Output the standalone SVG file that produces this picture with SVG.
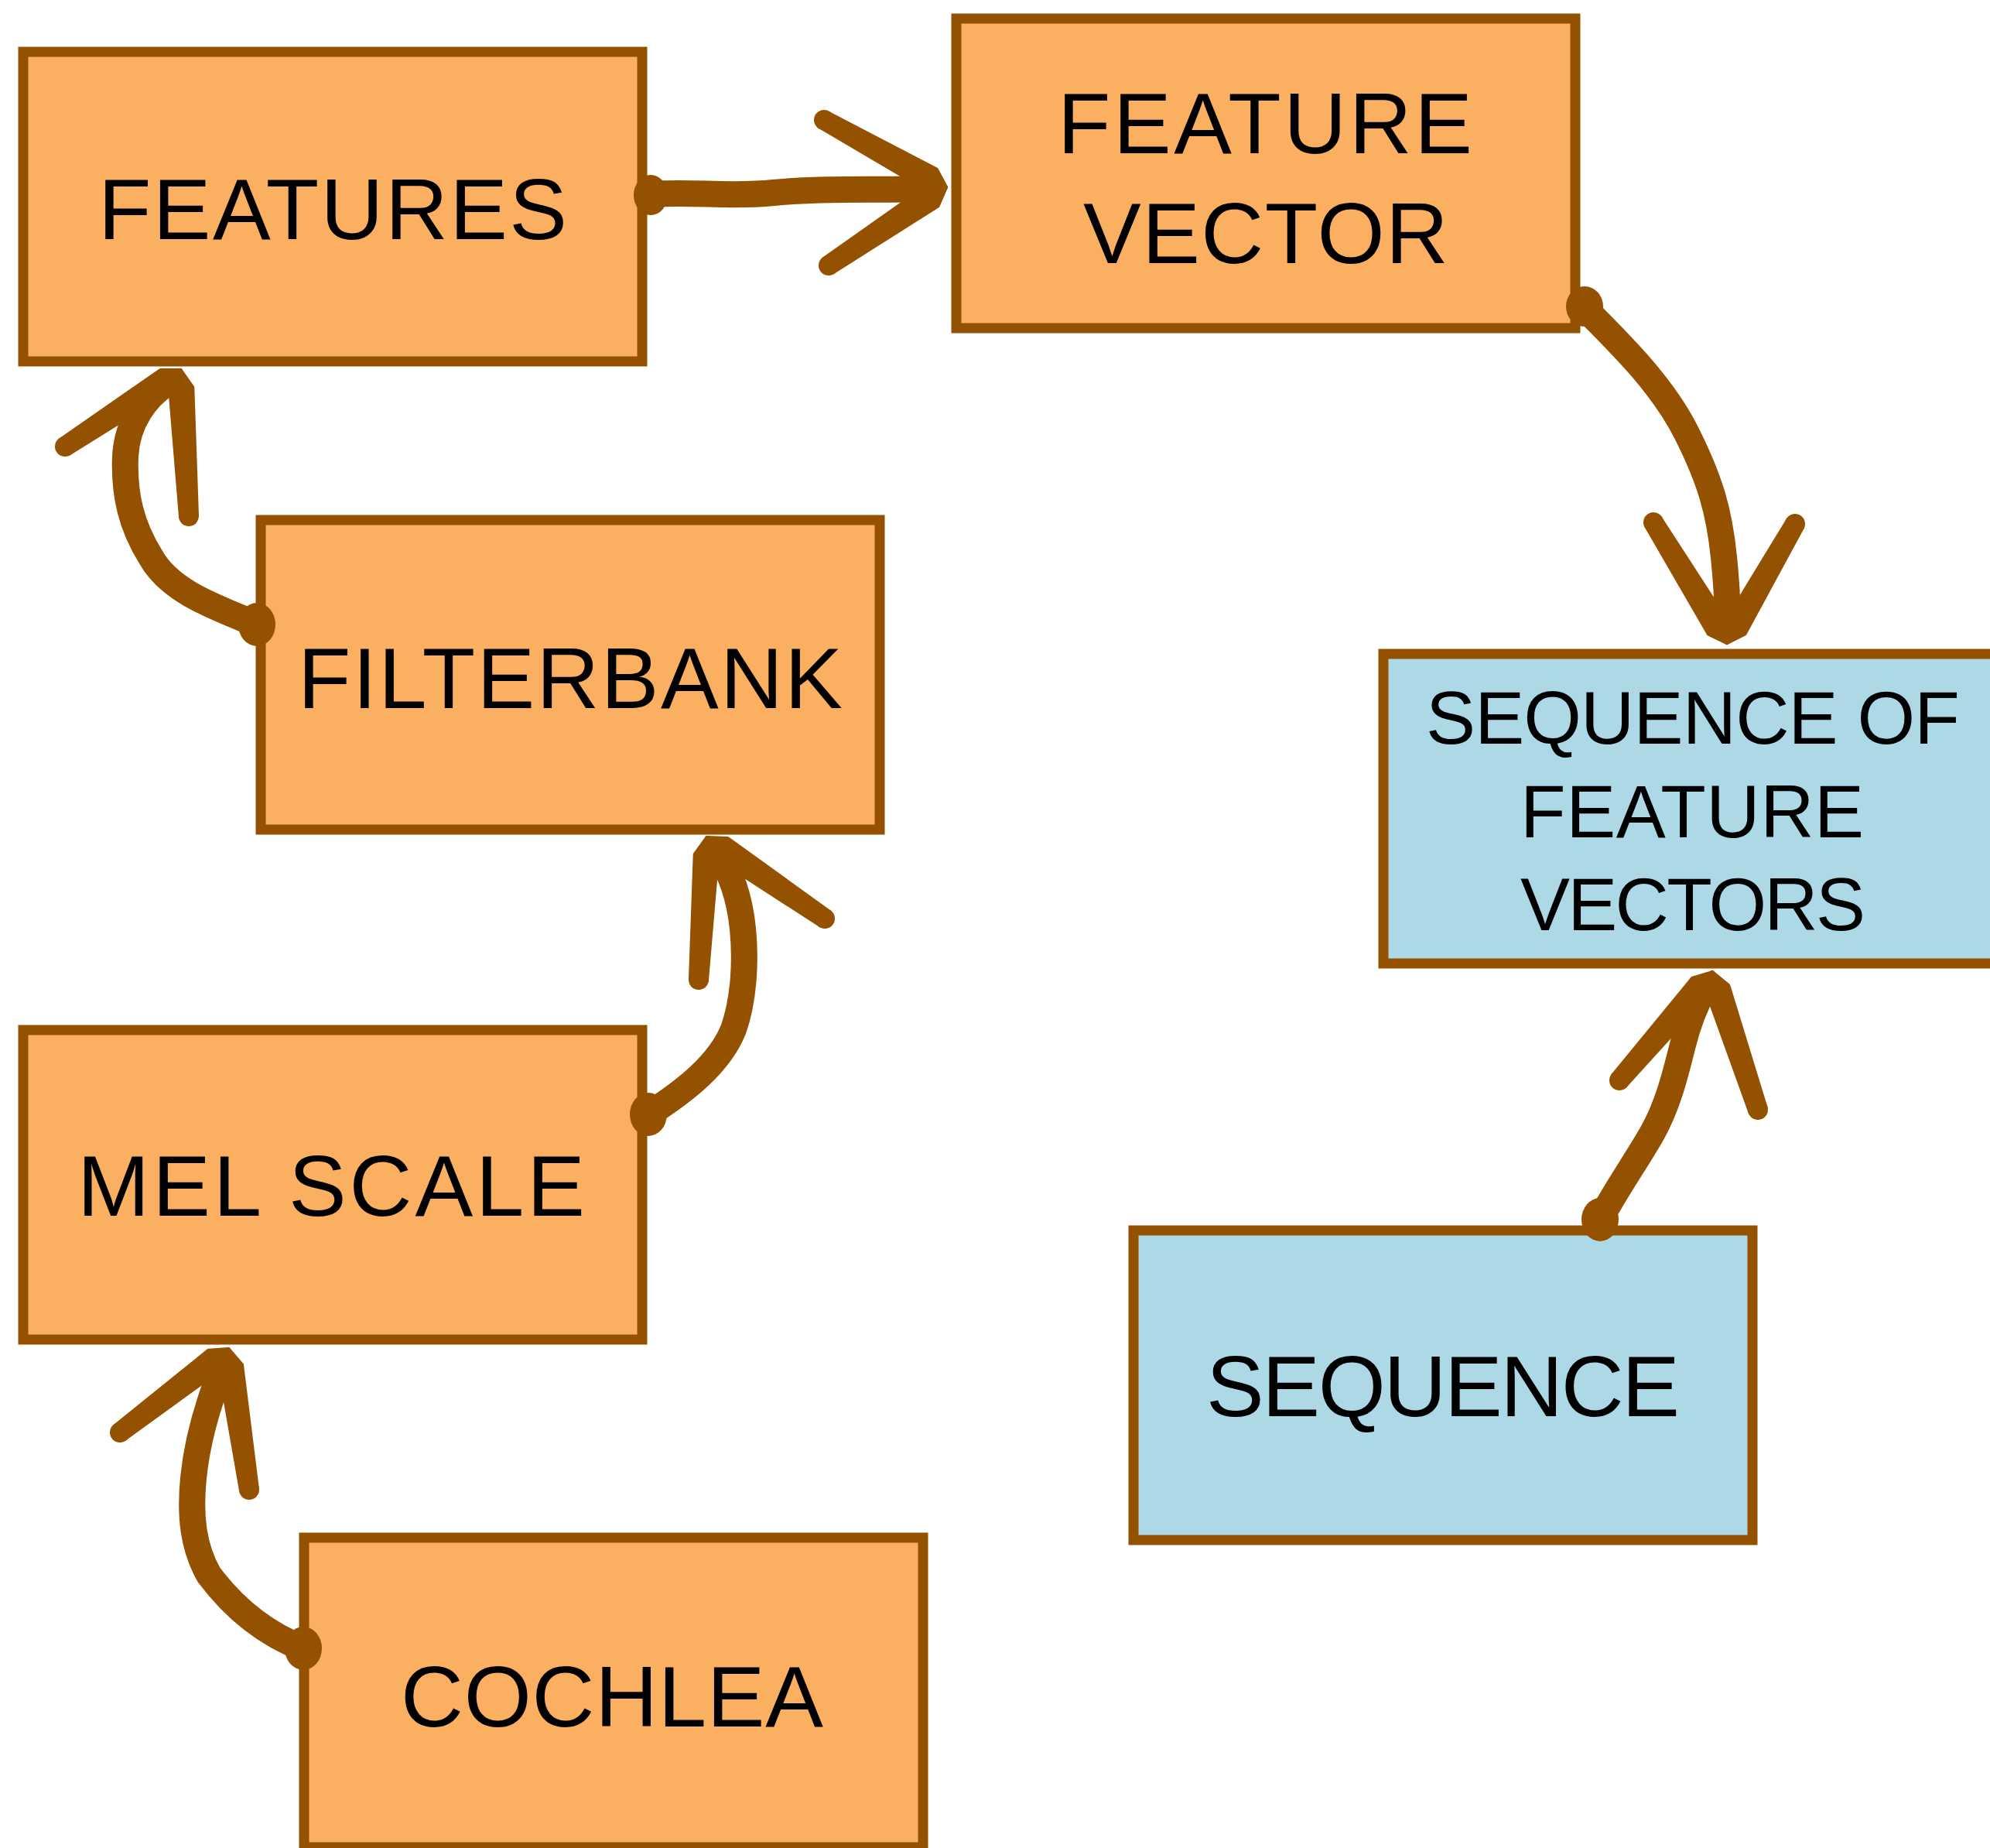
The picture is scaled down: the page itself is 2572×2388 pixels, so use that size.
<svg xmlns="http://www.w3.org/2000/svg" width="2572" height="2388" viewBox="0 0 2572 2388">
<style>
.box{stroke:#945200;stroke-width:13}
.orange{fill:#FBAF61}
.blue{fill:#ADD8E6}
.lbl{font-family:"Liberation Sans","DejaVu Sans",sans-serif;font-size:112px;fill:#000;text-anchor:middle}
.small{font-size:96px}
.shaft{fill:none;stroke:#945200;stroke-width:34;stroke-linecap:round;stroke-linejoin:round}
.head{fill:#945200;stroke:#945200;stroke-width:6;stroke-linejoin:round}
.blob{fill:#945200}
</style>
<rect width="2572" height="2388" fill="#fff"/>
<g id="features">
<rect class="box orange" x="30" y="67" width="800" height="400"/>
<text class="lbl" x="430" y="309" textLength="606" lengthAdjust="spacing">FEATURES</text>
</g>
<g id="feature-vector">
<rect class="box orange" x="1236" y="24" width="800" height="400"/>
<text class="lbl" x="1635" y="198" textLength="536" lengthAdjust="spacing">FEATURE</text>
<text class="lbl" x="1636" y="340" textLength="472" lengthAdjust="spacing">VECTOR</text>
</g>
<g id="filterbank">
<rect class="box orange" x="337" y="672" width="800" height="400"/>
<text class="lbl" x="737" y="915" textLength="704" lengthAdjust="spacing">FILTERBANK</text>
</g>
<g id="sequence-of-feature-vectors">
<rect class="box blue" x="1788" y="845" width="800" height="400"/>
<text class="lbl small" x="2188" y="961" textLength="690" lengthAdjust="spacing">SEQUENCE OF</text>
<text class="lbl small" x="2187" y="1082" textLength="444" lengthAdjust="spacing">FEATURE</text>
<text class="lbl small" x="2188" y="1202" textLength="446" lengthAdjust="spacing">VECTORS</text>
</g>
<g id="mel-scale">
<rect class="box orange" x="30" y="1331" width="800" height="400"/>
<text class="lbl" x="428" y="1571" textLength="656" lengthAdjust="spacing">MEL SCALE</text>
</g>
<g id="sequence">
<rect class="box blue" x="1465" y="1590" width="800" height="400"/>
<text class="lbl" x="1865" y="1830" textLength="612" lengthAdjust="spacing">SEQUENCE</text>
</g>
<g id="cochlea">
<rect class="box orange" x="393" y="1987" width="800" height="400"/>
<text class="lbl" x="791" y="2231" textLength="546" lengthAdjust="spacing">COCHLEA</text>
</g>
<g id="connectors">
<g id="a1">
<ellipse class="blob" cx="841" cy="252" rx="22" ry="26"/>
<path class="shaft" d="M 842 251 C 900 247, 940 255, 1000 249 S 1120 246, 1198 244"/>
<polygon class="head" points="1222,242 1210,219.4 1069.8,146.3 1060.2,163.7 1196.4,243.8"/>
<polygon class="head" points="1222,242 1196.1,242.5 1065.4,334.7 1076.6,351.3 1211.7,265.7"/>
<circle class="blob" cx="1065" cy="155" r="13"/>
<circle class="blob" cx="1071" cy="343" r="13"/>
</g>
<g id="a2">
<ellipse class="blob" cx="2048" cy="396" rx="24" ry="26"/>
<path class="shaft" d="M 2048 398 C 2100 450, 2150 500, 2180 560 S 2222 660, 2228 720 S 2232 780, 2232 800"/>
<polygon class="head" points="2232,830 2232.5,804.1 2145.5,669.8 2128.5,680.2 2208.7,818.7"/>
<polygon class="head" points="2232,830 2254.7,818.6 2328.7,682 2311.3,672 2230.5,804.6"/>
<circle class="blob" cx="2137" cy="675" r="13"/>
<circle class="blob" cx="2320" cy="677" r="13"/>
</g>
<g id="a3">
<ellipse class="blob" cx="332" cy="807" rx="24" ry="28"/>
<path class="shaft" d="M 330 806 C 280 785, 220 765, 195 720 C 170 680, 160 640, 162 590 C 164 545, 190 512, 215 496"/>
<polygon class="head" points="233,479 207.4,479.1 78.5,568.6 89.5,585.4 222.8,502.5"/>
<polygon class="head" points="233,479 220.3,502.4 234,667.6 254,666.4 248.3,500.8"/>
<circle class="blob" cx="84" cy="577" r="13"/>
<circle class="blob" cx="244" cy="667" r="13"/>
</g>
<g id="a4">
<ellipse class="blob" cx="838" cy="1440" rx="24" ry="28"/>
<path class="shaft" d="M 838 1440 C 885 1410, 930 1375, 948 1330 C 962 1290, 964 1240, 960 1200 C 955 1150, 940 1120, 926 1100"/>
<polygon class="head" points="914,1083 898.7,1104.2 893,1265.4 913,1266.6 926.7,1105.8"/>
<polygon class="head" points="914,1083 924.3,1107.1 1060.4,1195.3 1071.6,1178.7 940.1,1083.9"/>
<circle class="blob" cx="903" cy="1266" r="13"/>
<circle class="blob" cx="1066" cy="1187" r="13"/>
</g>
<g id="a5">
<ellipse class="blob" cx="392" cy="2130" rx="24" ry="28"/>
<path class="shaft" d="M 392 2130 C 340 2110, 300 2075, 270 2035 C 250 2000, 245 1960, 250 1910 C 255 1860, 268 1815, 288 1766"/>
<polygon class="head" points="295,1744 269.7,1745.7 148.9,1843.1 161.1,1858.9 286.7,1767.9"/>
<polygon class="head" points="295,1744 284.4,1767.8 312.1,1926.5 331.9,1923.5 312,1763.6"/>
<circle class="blob" cx="155" cy="1851" r="13"/>
<circle class="blob" cx="322" cy="1925" r="13"/>
</g>
<g id="a6">
<ellipse class="blob" cx="2068" cy="1576" rx="24" ry="28"/>
<path class="shaft" d="M 2068 1576 C 2090 1535, 2115 1500, 2135 1465 C 2155 1430, 2165 1390, 2175 1350 C 2183 1318, 2193 1295, 2203 1278"/>
<polygon class="head" points="2213,1257 2188,1264.5 2085.4,1389.5 2100.6,1402.5 2209.2,1282.9"/>
<polygon class="head" points="2213,1257 2206.8,1282.6 2262.5,1437.2 2281.5,1430.8 2233.4,1273.8"/>
<circle class="blob" cx="2093" cy="1396" r="13"/>
<circle class="blob" cx="2272" cy="1434" r="13"/>
</g>
</g>
</svg>
